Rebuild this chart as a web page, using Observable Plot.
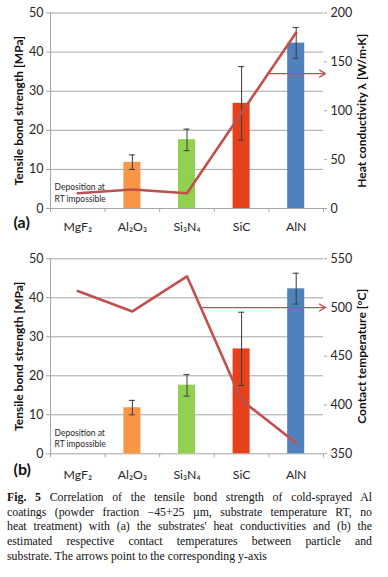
<!DOCTYPE html>
<html><head><meta charset="utf-8">
<script src="https://cdn.jsdelivr.net/npm/d3@7"></script>
<script src="https://cdn.jsdelivr.net/npm/@observablehq/plot@0.6"></script>
<style>
body{margin:0;background:#fff;width:388px;overflow:hidden;}
svg{display:block;}
#caption{font-family:"Liberation Serif","Times New Roman",serif;font-size:11.8px;line-height:14.7px;color:#111;margin:10px 0 0 7px;width:365px;}
#caption .j{display:block;text-align:justify;text-align-last:justify;white-space:nowrap;}
#caption .l{display:block;white-space:nowrap;}
</style></head><body>
<div id="a"></div><div id="b"></div>
<div id="caption">
<span class="j"><b>Fig. 5</b> Correlation of the tensile bond strength of cold-sprayed Al</span>
<span class="j">coatings (powder fraction −45+25 µm, substrate temperature RT, no</span>
<span class="j">heat treatment) with (a) the substrates' heat conductivities and (b) the</span>
<span class="j">estimated respective contact temperatures between particle and</span>
<span class="l">substrate. The arrows point to the corresponding y-axis</span>
</div>
<script>
const categories = ["MgF₂", "Al₂O₃", "Si₃N₄", "SiC", "AlN"];
const strength = [null, 11.8, 17.6, 26.9, 42.3];
const strengthLow = [null, 10.0, 14.8, 17.5, 38.4];
const strengthHigh = [null, 13.7, 20.3, 36.3, 46.3];
const heatConductivity = [15.6, 19.4, 15.6, 98, 180];
const contactTemperature = [517, 496, 532, 405, 361];
const barColors = [null, "#F79646", "#92D050", "#E5411B", "#4F81BD"];
const strengthTicks = [0, 10, 20, 30, 40, 50];
const heatTicks = [0, 50, 100, 150, 200];
const tempTicks = [350, 400, 450, 500, 550];
const heatArrowValue = 138;
const tempArrowValue = 500;

const FONT = "Lato, 'Open Sans', sans-serif";
const GRID = "#a6a6a6";
const LINE = "#C0504D";
const TXT = "#262626";
const half = 0.156, cap = 0.055;

function chart({right, rightTicks, rightLabel, panel, marginTop, marginBottom, labelPad, arrowFrom, arrowValue}) {
  const toLeft = d3.scaleLinear().domain([rightTicks[0], rightTicks[rightTicks.length - 1]]).range([0, 50]);
  const rows = categories.map((c, i) => ({i, c, s: strength[i], lo: strengthLow[i], hi: strengthHigh[i], color: barColors[i], r: right[i]}));
  const bars = rows.filter(d => d.s != null);
  return Plot.plot({
    width: 388, height: 240, marginLeft: 50, marginRight: 65, marginTop, marginBottom,
    style: {fontFamily: FONT, background: "white", overflow: "visible"},
    x: {domain: [0, 5], axis: null},
    y: {domain: [0, 50], axis: null},
    color: {type: "identity"},
    marks: [
      Plot.ruleY(strengthTicks, {stroke: GRID, strokeWidth: 1}),
      Plot.frame({anchor: "left", stroke: GRID}),
      Plot.axisY({ticks: strengthTicks, tickSize: 4, tickPadding: 3, stroke: GRID, fill: TXT, fontSize: 12.5, label: null}),
      Plot.axisY({anchor: "right", ticks: rightTicks.map(toLeft), tickFormat: d => Math.round(toLeft.invert(d)), tickSize: 3, tickPadding: 4, stroke: GRID, fill: TXT, fontSize: 12.5, label: null}),
      Plot.axisX({ticks: d3.range(0, 6), tickFormat: () => "", tickSize: 4, stroke: GRID, label: null}),
      Plot.axisX({ticks: d3.range(0, 5).map(i => i + 0.5), tickFormat: d => categories[Math.floor(d)], tickSize: 0, tickPadding: labelPad, fill: TXT, fontSize: 12.3, label: null}),
      Plot.rect(bars, {x1: d => d.i + 0.5 - half, x2: d => d.i + 0.5 + half, y1: 0, y2: "s", fill: "color"}),
      Plot.ruleX(bars, {x: d => d.i + 0.5, y1: "lo", y2: "hi", stroke: "#3a3a3a", strokeWidth: 1}),
      Plot.ruleY(bars, {y: "hi", x1: d => d.i + 0.5 - cap, x2: d => d.i + 0.5 + cap, stroke: "#3a3a3a", strokeWidth: 1}),
      Plot.ruleY(bars, {y: "lo", x1: d => d.i + 0.5 - cap, x2: d => d.i + 0.5 + cap, stroke: "#3a3a3a", strokeWidth: 1}),
      Plot.line(rows, {x: d => d.i + 0.5, y: d => toLeft(d.r), stroke: LINE, strokeWidth: 2.6}),
      Plot.arrow([{x1: arrowFrom, x2: 5, y: toLeft(arrowValue)}], {x1: "x1", x2: "x2", y1: "y", y2: "y", stroke: LINE, strokeWidth: 1.3, headLength: 8, insetEnd: -2}),
      Plot.text(["Deposition at\nRT impossible"], {x: 0, frameAnchor: "bottom", textAnchor: "start", lineAnchor: "bottom", dx: 4, dy: -7, fontSize: 8.5, lineHeight: 1.3, fill: TXT}),
      Plot.text([panel], {frameAnchor: "bottom-left", textAnchor: "start", lineAnchor: "middle", dx: -37, dy: labelPad + 0.5, fontSize: 16, fontWeight: "bold", fill: "#111"}),
      Plot.text(["Tensile bond strength [MPa]"], {frameAnchor: "left", rotate: -90, dx: -31, textAnchor: "middle", lineAnchor: "middle", fontSize: 12, fontWeight: "bold", fill: "#111"}),
      Plot.text([rightLabel], {frameAnchor: "right", rotate: -90, dx: 39, textAnchor: "middle", lineAnchor: "middle", fontSize: 12, fontWeight: "bold", fill: "#111"})
    ]
  });
}

document.getElementById("a").append(chart({
  right: heatConductivity, rightTicks: heatTicks, rightLabel: "Heat conductivity λ [W/m·K]", panel: "(a)",
  marginTop: 12.5, marginBottom: 32, labelPad: 13.5, arrowFrom: 4, arrowValue: heatArrowValue
}));
document.getElementById("b").append(chart({
  right: contactTemperature, rightTicks: tempTicks, rightLabel: "Contact temperature [°C]", panel: "(b)",
  marginTop: 18.3, marginBottom: 26.7, labelPad: 16, arrowFrom: 2.78, arrowValue: tempArrowValue
}));
</script>
</body></html>
